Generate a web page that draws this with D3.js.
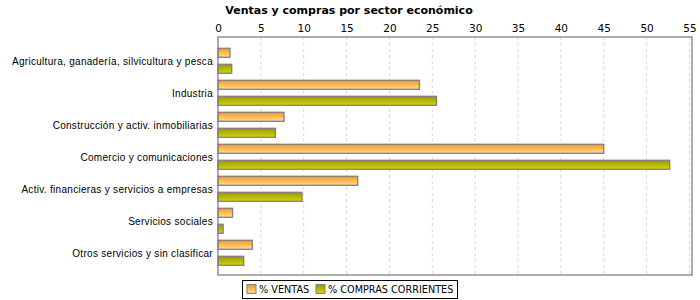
<!DOCTYPE html>
<html>
<head>
<meta charset="utf-8">
<script src="https://cdn.jsdelivr.net/npm/d3@7"></script>
<style>
body { margin: 0; background: #fff; }
svg { display: block; }
</style>
</head>
<body>
<svg id="chart"></svg>
<script>
var categories = [
    "Agricultura, ganadería, silvicultura y pesca",
    "Industria",
    "Construcción y activ. inmobiliarias",
    "Comercio y comunicaciones",
    "Activ. financieras y servicios a empresas",
    "Servicios sociales",
    "Otros servicios y sin clasificar"
];
var seriesNames = ["% VENTAS", "% COMPRAS CORRIENTES"];
var ventas = [1.4, 23.5, 7.7, 45.0, 16.3, 1.7, 4.0];
var compras = [1.6, 25.5, 6.7, 52.7, 9.8, 0.6, 3.0];
var xTicks = [0, 5, 10, 15, 20, 25, 30, 35, 40, 45, 50, 55];

var width = 700, height = 300;
var plotLeft = 218, plotRight = 692, plotTop = 37, plotBottom = 275;

var svg = d3.select("#chart")
    .attr("width", width)
    .attr("height", height);

var defs = svg.append("defs");
var gradColors = [["#ff9a00", "#ffd9a8"], ["#999900", "#d6d600"]];
gradColors.forEach(function(c, i) {
    var g = defs.append("linearGradient")
        .attr("id", "grad" + i)
        .attr("x1", 0).attr("y1", 0).attr("x2", 0).attr("y2", 1);
    g.append("stop").attr("offset", "0%").attr("stop-color", c[0]);
    g.append("stop").attr("offset", "100%").attr("stop-color", c[1]);
});

var x = d3.scaleLinear()
    .domain([0, 55.3])
    .range([plotLeft, plotRight]);

var y = d3.scaleBand()
    .domain(categories)
    .range([plotTop + 7, plotBottom - 7])
    .paddingInner(0);

var ySub = d3.scaleBand()
    .domain([0, 1])
    .range([4.3, 29.3])
    .paddingInner(0.4375);

// title
svg.append("text")
    .attr("x", 349)
    .attr("y", 14)
    .attr("text-anchor", "middle")
    .attr("font-family", "DejaVu Sans")
    .attr("font-weight", "bold")
    .attr("font-size", "11px")
    .attr("fill", "#000")
    .text("Ventas y compras por sector económico");

// grid
svg.append("g")
    .selectAll("line")
    .data(xTicks.slice(1))
    .enter().append("line")
    .attr("x1", function(d) { return x(d); })
    .attr("x2", function(d) { return x(d); })
    .attr("y1", plotTop)
    .attr("y2", plotBottom)
    .attr("stroke", "#d8d8d8")
    .attr("stroke-width", 1)
    .attr("stroke-dasharray", "3,3");

// top axis
var xAxis = svg.append("g")
    .attr("transform", "translate(0," + plotTop + ")")
    .call(d3.axisTop(x).tickValues(xTicks).tickSize(0).tickPadding(5));
xAxis.select(".domain").remove();
xAxis.selectAll("text")
    .attr("font-family", "DejaVu Sans")
    .attr("font-size", "10.5px")
    .attr("fill", "#000");

// bars
var data = [ventas, compras];
var groups = svg.append("g")
    .selectAll("g")
    .data(categories)
    .enter().append("g")
    .attr("transform", function(d) { return "translate(0," + y(d) + ")"; });

groups.selectAll("rect")
    .data(function(d, i) { return data.map(function(s, j) { return { s: j, v: s[i] }; }); })
    .enter().append("rect")
    .attr("x", x(0))
    .attr("y", function(d) { return ySub(d.s); })
    .attr("width", function(d) { return x(d.v) - x(0); })
    .attr("height", ySub.bandwidth())
    .attr("fill", function(d) { return "url(#grad" + d.s + ")"; })
    .attr("stroke", "#808080")
    .attr("stroke-width", 1.3);

// category labels
svg.append("g")
    .selectAll("text")
    .data(categories)
    .enter().append("text")
    .attr("x", plotLeft - 5)
    .attr("y", function(d) { return y(d) + y.bandwidth() / 2 + 4.5; })
    .attr("text-anchor", "end")
    .attr("font-family", "Liberation Sans")
    .attr("font-size", "10px")
    .attr("letter-spacing", "0.3px")
    .attr("fill", "#000")
    .text(function(d) { return d; });

// plot border
svg.append("rect")
    .attr("x", plotLeft)
    .attr("y", plotTop)
    .attr("width", plotRight - plotLeft)
    .attr("height", plotBottom - plotTop)
    .attr("fill", "none")
    .attr("stroke", "#808080")
    .attr("stroke-width", 1.3);

// legend
var legend = svg.append("g");
legend.append("rect")
    .attr("x", 242.5)
    .attr("y", 280.5)
    .attr("width", 215)
    .attr("height", 18)
    .attr("fill", "#fff")
    .attr("stroke", "#000")
    .attr("stroke-width", 1);

var legendX = [247, 316];
seriesNames.forEach(function(name, i) {
    legend.append("rect")
        .attr("x", legendX[i])
        .attr("y", 284.5)
        .attr("width", 9)
        .attr("height", 9)
        .attr("fill", "url(#grad" + i + ")")
        .attr("stroke", "#808080");
    legend.append("text")
        .attr("x", legendX[i] + 12)
        .attr("y", 293)
        .attr("font-family", "DejaVu Sans")
        .attr("font-size", "9.7px")
        .attr("fill", "#000")
        .text(name);
});
</script>
</body>
</html>
